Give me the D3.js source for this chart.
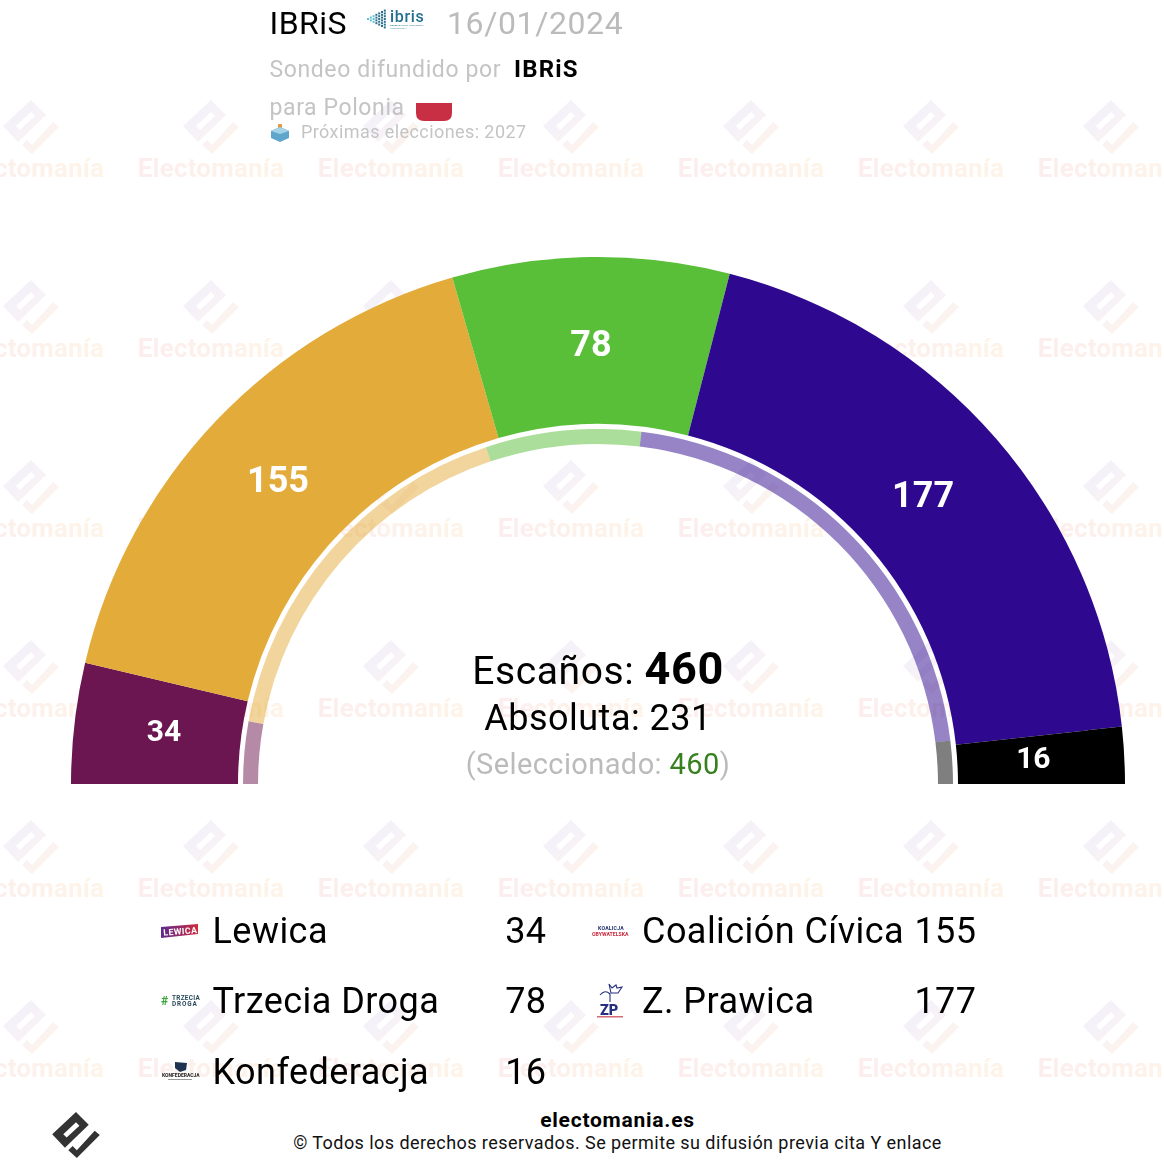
<!DOCTYPE html>
<html>
<head>
<meta charset="utf-8">
<script src="https://cdn.jsdelivr.net/npm/d3@7"></script>
<style>
  html, body { margin: 0; padding: 0; background: #fff; }
  svg { display: block; }
  text { font-family: Roboto, sans-serif; }
</style>
</head>
<body>
<svg width="1164" height="1174"></svg>
<script>
const parties = ["Lewica", "Coalición Cívica", "Trzecia Droga", "Z. Prawica", "Konfederacja"];
const seats = [34, 155, 78, 177, 16];
const prevSeats = [26, 157, 65, 194, 18];
const colors = ["#6b1650", "#e3ab39", "#59be38", "#2e0990", "#000000"];

const svg = d3.select("svg");
const cx = 598, cy = 784;

// watermark
const defs = svg.append("defs");
const grad = defs.append("linearGradient").attr("id", "wm-logo")
  .attr("x1", 0).attr("y1", 0).attr("x2", 1).attr("y2", 1);
grad.append("stop").attr("offset", "35%").attr("stop-color", "#e8e0f2");
grad.append("stop").attr("offset", "85%").attr("stop-color", "#fde6d4");
const gradText = defs.append("linearGradient").attr("id", "wm-text");
gradText.append("stop").attr("offset", "0%").attr("stop-color", "#f8d8d8");
gradText.append("stop").attr("offset", "100%").attr("stop-color", "#fde6cc");
const lewGrad = defs.append("linearGradient").attr("id", "lew");
lewGrad.append("stop").attr("offset", "0%").attr("stop-color", "#5b2a91");
lewGrad.append("stop").attr("offset", "100%").attr("stop-color", "#d12a3c");

const logoPath = "M-28,-1L0,-27L15,-12L-13,15ZM-15,-1L-11,3L4,-11L0,-15Z" +
  "M-9,18L-4,13L1,18L22,-5L28,0L1,27Z";

const wm = svg.append("g").attr("opacity", 0.45);
d3.range(6).forEach(j => d3.range(7).forEach(i => {
  const g = wm.append("g").attr("transform", `translate(${31 + 180 * i},${127 + 180 * j})`);
  g.append("path").attr("d", logoPath).attr("fill", "url(#wm-logo)").attr("fill-rule", "evenodd");
  g.append("text").attr("y", 50).attr("text-anchor", "middle")
    .attr("font-size", 26).attr("font-weight", 700).attr("letter-spacing", 0.2)
    .attr("fill", "url(#wm-text)").text("Electomanía");
}));

// hemicycle
const pie = d3.pie().sort(null).startAngle(-Math.PI / 2).endAngle(Math.PI / 2);
const slices = pie(seats);
const outer = d3.arc().innerRadius(360).outerRadius(527);
const inner = d3.arc().innerRadius(340).outerRadius(355);
const chart = svg.append("g").attr("transform", `translate(${cx},${cy})`);

chart.selectAll(".ring").data(pie(prevSeats)).enter().append("path")
  .attr("class", "ring")
  .attr("d", inner)
  .attr("fill", (d, i) => colors[i])
  .attr("opacity", 0.5);

chart.selectAll(".seat").data(slices).enter().append("path")
  .attr("class", "seat")
  .attr("d", outer)
  .attr("fill", (d, i) => colors[i]);

const labelArc = d3.arc().innerRadius(438).outerRadius(438);
const labelSize = [30, 36, 36, 36, 30];
const labelDx = [1, -3, -1, -6, -2];
chart.selectAll(".val").data(slices).enter().append("text")
  .attr("class", "val")
  .attr("transform", (d, i) => {
    const [x, y] = labelArc.centroid(d);
    return `translate(${x + labelDx[i]},${y - 3})`;
  })
  .attr("text-anchor", "middle")
  .attr("dy", "0.36em")
  .attr("font-size", (d, i) => labelSize[i])
  .attr("font-weight", 700)
  .attr("fill", "#fff")
  .text(d => d.data);

// centre text
const centre = svg.append("g").attr("text-anchor", "middle");
const l1 = centre.append("text").attr("x", cx).attr("y", 684).attr("font-size", 39)
  .attr("letter-spacing", 0.6).attr("fill", "#000");
l1.append("tspan").text("Escaños: ");
l1.append("tspan").attr("font-weight", 700).attr("font-size", 45).text("460");
centre.append("text").attr("x", cx).attr("y", 730).attr("font-size", 36)
  .attr("letter-spacing", 0.5).attr("fill", "#000").text("Absoluta: 231");
const l3 = centre.append("text").attr("x", cx).attr("y", 774).attr("font-size", 29)
  .attr("letter-spacing", 0.4).attr("fill", "#bbb");
l3.append("tspan").text("(Seleccionado: ");
l3.append("tspan").attr("fill", "#38801f").text("460");
l3.append("tspan").text(")");

// header
function label(x, y, size, fill, str, weight, spacing) {
  return svg.append("text").attr("x", x).attr("y", y).attr("font-size", size)
    .attr("fill", fill).attr("font-weight", weight || 400)
    .attr("letter-spacing", spacing === undefined ? 0.45 : spacing).text(str);
}
label(269.5, 34, 32, "#000", "IBRiS");
label(447, 34, 32, "#bbb", "16/01/2024", 400, 0.6);
label(269.5, 77, 23, "#c4c4c4", "Sondeo difundido por", 400, 0.6);
label(514, 77, 24, "#000", "IBRiS", 700, 1.2);
label(269.5, 115, 23, "#c4c4c4", "para Polonia", 400, 0.6);
label(301, 138, 18, "#c4c4c4", "Próximas elecciones: 2027", 400, 0.42);

// pollster mark
const ibris = svg.append("g");
d3.range(7).forEach(c => d3.range(c + 1).forEach(r => {
  ibris.append("rect").attr("x", 367 + c * 2.8).attr("y", 18 + (r - c / 2) * 2.8)
    .attr("width", 2).attr("height", 2)
    .attr("fill", c < 3 ? "#5cc0d0" : "#2c6f8c");
}));
label(390, 22, 16, "#1f6f8f", "ibris", 500, 0.7);
label(390, 25.5, 2.5, "#3a7f9c", "BADANIA OPINII PUBLICZNEJ", 400, 0);
label(390, 29, 2.5, "#3a7f9c", "I RYNKOWYCH", 400, 0);

// polish flag
svg.append("path").attr("d", "M416,103H452V113Q452,121 444,121H424Q416,121 416,113Z").attr("fill", "#c82e44");

// ballot box
svg.append("rect").attr("x", 278).attr("y", 124).attr("width", 4).attr("height", 7).attr("rx", 1).attr("fill", "#e39a3c");
svg.append("path").attr("d", "M271,131L280,127L289,131L289,138L280,142L271,138Z").attr("fill", "#5fa5cc");
svg.append("path").attr("d", "M271,131L280,134L289,131L280,127Z").attr("fill", "#a5d3e8");

// legend
const legendCol = [0, 1, 0, 1, 0];
const legendRow = [0, 0, 1, 1, 2];
const colX = [212.5, 642], colEnd = [546.5, 976.5], rowY = [943, 1013, 1084];
parties.forEach((p, i) => {
  const c = legendCol[i], r = rowY[legendRow[i]];
  label(colX[c], r, 36, "#000", p);
  label(colEnd[c], r, 36, "#000", seats[i]).attr("text-anchor", "end");
});

// party marks
svg.append("path").attr("d", "M161,927L198,924V934L161,938Z").attr("fill", "url(#lew)");
label(163.5, 935.5, 8.8, "#fff", "LEWICA", 700, 0.4).attr("transform", "rotate(-4 164 935)");
label(161, 1005, 12, "#3aa53a", "#", 700, 0);
label(172, 1000, 6.4, "#2a4a5a", "TRZECIA", 700, 0.3);
label(172, 1006, 6.4, "#2a4a5a", "DROGA", 700, 0.9);
svg.append("path").attr("d", "M175,1062L187,1063L186,1070L180,1072L175,1068Z").attr("fill", "#1f3350");
label(162, 1077, 5, "#222", "KONFEDERACJA", 700, 0);
svg.append("rect").attr("x", 168).attr("y", 1079).attr("width", 24).attr("height", 1).attr("fill", "#999");
label(598, 929.5, 5.2, "#1f2f70", "KOALICJA", 700, 0.2);
label(592, 936, 5.2, "#c8283c", "OBYWATELSKA", 700, 0);
label(600, 1015, 14.5, "#26307f", "ZP", 900, 0);
svg.append("path").attr("d", "M600,995Q605,989 610,994Q610,999 610,1002M609,984L612,988L616,985L617,988L622,987L618,993L611,993Z")
  .attr("fill", "none").attr("stroke", "#26307f").attr("stroke-width", 1.1);
svg.append("rect").attr("x", 597).attr("y", 1016).attr("width", 26).attr("height", 1.5).attr("fill", "#d46a78");

// footer
svg.append("path").attr("d", logoPath).attr("transform", "translate(76,1135) scale(0.85)")
  .attr("fill", "#333").attr("fill-rule", "evenodd");
label(617.5, 1127, 21, "#000", "electomania.es", 700, 0.75).attr("text-anchor", "middle");
label(617.5, 1149, 18, "#111", "© Todos los derechos reservados. Se permite su difusión previa cita Y enlace", 400, 0.44)
  .attr("text-anchor", "middle");
</script>
</body>
</html>
